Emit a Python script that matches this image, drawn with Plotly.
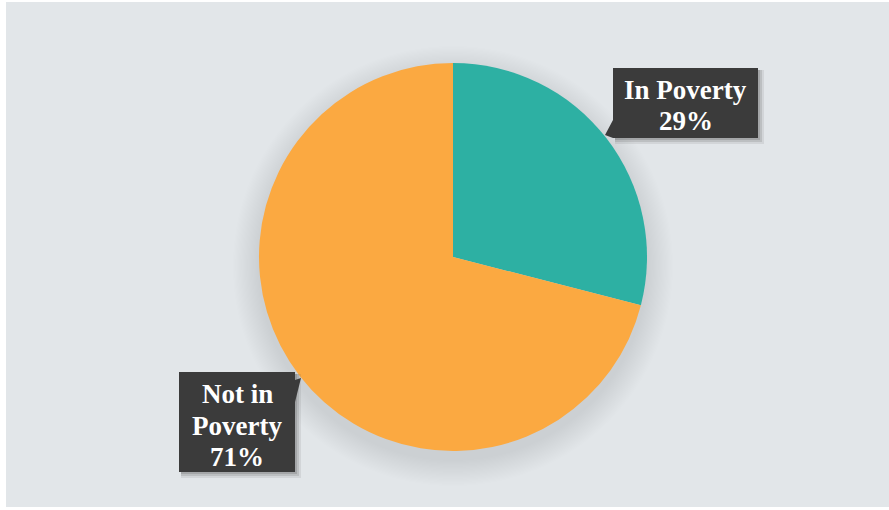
import plotly.graph_objects as go

# Poverty status shares
categories = ["In Poverty", "Not in Poverty"]
values = [29, 71]
colors = ["#2DB0A3", "#FBA941"]
label_lines = [["In Poverty"], ["Not in", "Poverty"]]

W, H = 889, 510
BG = "#E2E6E9"
BOX = "#3B3B3B"

# pie placement (pixels)
cx, cy, r = 453, 257, 194


def px(x):
    return x / W


def py(y):
    return 1 - y / H


fig = go.Figure()

fig.add_trace(go.Pie(
    labels=categories,
    values=values,
    sort=False,
    direction="clockwise",
    rotation=0,
    marker=dict(colors=colors, line=dict(width=0)),
    textinfo="none",
    hoverinfo="label+percent",
    showlegend=False,
    domain=dict(x=[px(cx - r), px(cx + r)], y=[py(cy + r), py(cy - r)]),
))

shapes = []
# panel background
shapes.append(dict(type="rect", xref="paper", yref="paper",
                   x0=px(6), x1=px(889), y0=py(507), y1=py(2),
                   fillcolor=BG, line=dict(width=0), layer="below"))

# soft drop shadow under the pie
for i in range(22):
    grow = 26 - i * 1.2
    shapes.append(dict(type="circle", xref="paper", yref="paper",
                       x0=px(cx - r - grow), x1=px(cx + r + grow),
                       y0=py(cy + 9 + r + grow), y1=py(cy + 9 - r - grow),
                       fillcolor="rgba(95,100,105,0.009)", line=dict(width=0),
                       layer="below"))

total = sum(values)
pct = [round(v * 100 / total) for v in values]

# callout boxes (pixel geometry) and text line centres
boxes = [
    dict(x0=613, x1=758, y0=68, y1=138,
         tail=[(613, 120), (613, 138), (605, 135)],
         rows=[90, 121]),
    dict(x0=179, x1=295, y0=372, y1=472,
         tail=[(295, 380), (295, 402), (301, 378)],
         rows=[394, 426, 457]),
]

annotations = []
for b, lines, p in zip(boxes, label_lines, pct):
    # box shadow
    for k, a in ((6, 0.10), (4, 0.15), (2, 0.2)):
        shapes.append(dict(type="rect", xref="paper", yref="paper",
                           x0=px(b["x0"] + 2), x1=px(b["x1"] + k),
                           y0=py(b["y1"] + k), y1=py(b["y0"] + 2),
                           fillcolor=f"rgba(70,70,70,{a})", line=dict(width=0)))
    # box body
    shapes.append(dict(type="rect", xref="paper", yref="paper",
                       x0=px(b["x0"]), x1=px(b["x1"]),
                       y0=py(b["y1"]), y1=py(b["y0"]),
                       fillcolor=BOX, line=dict(width=0)))
    # pointer
    pts = b["tail"]
    path = "M {} {} L {} {} L {} {} Z".format(
        px(pts[0][0]), py(pts[0][1]), px(pts[1][0]), py(pts[1][1]),
        px(pts[2][0]), py(pts[2][1]))
    shapes.append(dict(type="path", xref="paper", yref="paper", path=path,
                       fillcolor=BOX, line=dict(width=0)))
    texts = lines + [f"{p}%"]
    for t, yc in zip(texts, b["rows"]):
        annotations.append(dict(
            xref="paper", yref="paper",
            x=px((b["x0"] + b["x1"]) / 2), y=py(yc),
            xanchor="center", yanchor="middle",
            text=f"<b>{t}</b>",
            showarrow=False,
            font=dict(family="Liberation Serif", size=27, color="#FFFFFF"),
        ))

fig.update_layout(
    width=W, height=H,
    margin=dict(l=0, r=0, t=0, b=0),
    paper_bgcolor="#FFFFFF",
    shapes=shapes,
    annotations=annotations,
)

fig.write_html("out.html")
